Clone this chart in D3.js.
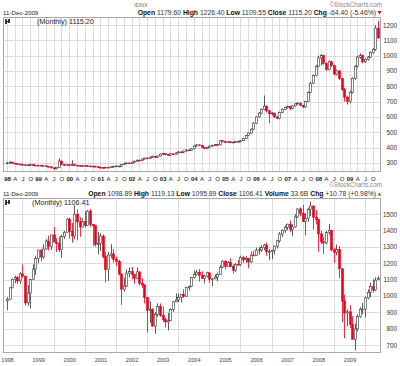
<!DOCTYPE html>
<html>
<head>
<meta charset="utf-8">
<script src="https://cdn.jsdelivr.net/npm/d3@7"></script>
<style>
body { margin: 0; background: #fff; }
svg text { font-family: "Liberation Sans", Arial, sans-serif; }
</style>
</head>
<body>
<div id="vis"></div>
<script>
/* ---- Data (monthly, Jan 1998 .. Dec 2009) ---- */
var years = ["1998","1999","2000","2001","2002","2003","2004","2005","2006","2007","2008","2009"];
var yearShort = ["98","99","00","01","02","03","04","05","06","07","08","09"];
var quarterLetters = ["A","J","O"];

/* IDNX (top panel) */
var idnxOpen = [
 295,300,305,298,295,290,292,288,285,287,290,285,
 283,285,280,282,278,275,268,262,270,312,290,285,
 288,285,292,285,280,283,278,282,280,276,279,275,
 272,270,268,272,270,275,278,280,276,290,295,300,
 298,305,312,318,315,325,332,330,338,342,336,345,
 358,362,355,350,360,358,366,372,370,378,385,380,
 392,410,418,415,400,395,402,410,415,420,418,445,
 440,435,438,432,436,440,438,445,460,478,495,520,
 560,600,625,650,670,640,620,625,600,590,630,650,
 660,668,655,672,685,690,676,665,700,760,820,870,
 930,985,1000,950,910,960,935,880,900,850,780,730,
 700,760,850,930,990,1000,960,975,990,1020,1040,1179.6];
var idnxHigh = [
 306,310,307,300,297,295,294,290,291,294,291,288,
 288,287,285,284,280,277,270,274,330,315,292,292,
 292,318,294,287,286,284,285,284,282,282,281,277,
 275,273,275,274,278,281,283,282,293,298,304,303,
 308,316,322,321,328,336,336,341,347,344,349,362,
 366,364,358,363,363,370,376,375,381,389,388,396,
 415,423,421,418,404,406,414,419,424,424,450,448,
 443,442,441,439,444,444,449,464,482,500,526,566,
 606,632,656,740,675,648,632,628,606,635,656,666,
 674,672,678,690,698,694,680,706,766,828,878,940,
 1000,1010,1005,955,968,965,940,910,905,855,790,740,
 770,858,938,1000,1015,1008,982,998,1028,1048,1200,1226.4];
var idnxLow = [
 292,297,294,291,286,287,284,281,282,284,281,279,
 280,277,278,274,270,262,256,258,266,286,280,282,
 282,280,280,276,278,274,276,275,272,273,270,267,
 265,264,265,266,268,272,274,272,274,287,292,294,
 295,302,308,312,312,322,326,327,334,332,333,342,
 354,350,345,348,354,354,362,366,366,373,377,378,
 388,405,410,396,388,390,398,405,410,413,415,435,
 430,432,428,429,432,434,435,442,456,474,490,515,
 555,595,620,645,630,560,610,595,585,585,625,645,
 655,645,650,668,680,670,658,660,695,755,815,865,
 925,935,940,900,905,925,870,870,840,770,700,680,
 690,752,842,922,980,950,952,968,984,1012,1032,1109.55];
var idnxClose = [
 300,305,298,295,290,292,288,285,287,290,285,283,
 285,280,282,278,275,268,262,270,312,290,285,288,
 285,292,285,280,283,278,282,280,276,279,275,272,
 270,268,272,270,275,278,280,276,290,295,300,298,
 305,312,318,315,325,332,330,338,342,336,345,358,
 362,355,350,360,358,366,372,370,378,385,380,392,
 410,418,415,400,395,402,410,415,420,418,445,440,
 435,438,432,436,440,438,445,460,478,495,520,560,
 600,625,650,670,640,620,625,600,590,630,650,660,
 668,655,672,685,690,676,665,700,760,820,870,930,
 985,1000,950,910,960,935,880,900,850,780,730,700,
 760,850,930,990,1000,960,975,990,1020,1040,1180,1115.2];

/* S&P 500 (bottom panel) */
var spxOpen = [
 970,980,1049,1102,1112,1091,1134,1121,957,1017,1099,1164,
 1229,1280,1238,1286,1335,1302,1373,1329,1320,1283,1363,1389,
 1469,1394,1366,1499,1452,1421,1455,1431,1518,1437,1429,1315,
 1320,1366,1240,1160,1249,1256,1224,1211,1134,1041,1060,1139,
 1148,1130,1107,1147,1077,1067,990,912,916,815,886,936,
 880,856,841,848,917,964,975,990,1008,996,1051,1058,
 1112,1131,1145,1126,1107,1121,1141,1102,1104,1115,1130,1174,
 1212,1181,1204,1181,1157,1192,1191,1234,1220,1229,1207,1249,
 1248,1280,1281,1295,1311,1270,1270,1277,1304,1336,1378,1401,
 1418,1438,1407,1421,1482,1531,1503,1455,1474,1527,1549,1481,
 1468,1379,1331,1323,1386,1400,1280,1267,1283,1166,969,896,
 903,826,735,798,873,919,919,987,1021,1057,1036,1098.89];
var spxHigh = [
 992,1051,1106,1124,1122,1145,1191,1121,1066,1103,1193,1245,
 1280,1281,1316,1347,1368,1372,1421,1352,1362,1374,1397,1474,
 1478,1445,1553,1528,1481,1474,1517,1525,1531,1438,1432,1390,
 1384,1376,1268,1269,1316,1286,1240,1220,1135,1111,1162,1173,
 1176,1131,1173,1147,1107,1070,994,966,925,900,954,954,
 935,864,895,924,966,1015,1015,1011,1040,1054,1063,1112,
 1155,1159,1163,1150,1128,1147,1141,1109,1131,1143,1188,1218,
 1217,1212,1229,1192,1200,1219,1246,1245,1244,1233,1270,1276,
 1295,1297,1310,1318,1326,1285,1281,1307,1340,1390,1407,1432,
 1441,1461,1438,1499,1535,1541,1556,1504,1539,1576,1553,1524,
 1471,1396,1359,1397,1440,1404,1293,1314,1304,1165,1007,919,
 943,876,832,888,930,956,996,1040,1081,1102,1113,1119.13];
var spxLow = [
 912,979,1048,1076,1074,1074,1112,940,939,923,1098,1129,
 1200,1212,1226,1282,1277,1281,1328,1268,1268,1233,1348,1387,
 1350,1325,1346,1339,1361,1418,1416,1431,1419,1305,1301,1254,
 1274,1228,1082,1091,1232,1203,1183,1124,945,1026,1054,1114,
 1101,1074,1106,1063,1048,953,776,834,815,768,872,872,
 840,806,789,847,903,962,962,960,988,995,1032,1054,
 1106,1124,1087,1105,1076,1113,1079,1060,1102,1090,1128,1172,
 1163,1180,1176,1137,1146,1188,1184,1201,1201,1168,1202,1245,
 1245,1253,1268,1280,1245,1219,1224,1253,1290,1326,1360,1385,
 1403,1389,1364,1416,1476,1485,1452,1370,1453,1489,1406,1436,
 1270,1317,1257,1315,1373,1272,1200,1247,1107,840,741,815,
 804,735,667,783,866,888,869,979,992,1020,1029,1095.89];
var spxClose = [
 980,1049,1102,1112,1091,1134,1121,957,1017,1099,1164,1229,
 1280,1238,1286,1335,1302,1373,1329,1320,1283,1363,1389,1469,
 1394,1366,1499,1452,1421,1455,1431,1518,1437,1429,1315,1320,
 1366,1240,1160,1249,1256,1224,1211,1134,1041,1060,1139,1148,
 1130,1107,1147,1077,1067,990,912,916,815,886,936,880,
 856,841,848,917,964,975,990,1008,996,1051,1058,1112,
 1131,1145,1126,1107,1121,1141,1102,1104,1115,1130,1174,1212,
 1181,1204,1181,1157,1192,1191,1234,1220,1229,1207,1249,1248,
 1280,1281,1295,1311,1270,1270,1277,1304,1336,1378,1401,1418,
 1438,1407,1421,1482,1531,1503,1455,1474,1527,1549,1481,1468,
 1379,1331,1323,1386,1400,1280,1267,1283,1166,969,896,903,
 826,735,798,873,919,919,987,1021,1057,1036,1096,1106.41];

/* Header texts */
var headerDate = "11-Dec-2009";
var idnxQuote = [["Open"," 1179.60 "],["High"," 1226.40 "],["Low"," 1109.55 "],["Close"," 1115.20 "],["Chg"," -64.40 (-5.46%) "]];
var spxQuote = [["Open"," 1098.89 "],["High"," 1119.13 "],["Low"," 1095.89 "],["Close"," 1106.41 "],["Volume"," 33.6B "],["Chg"," +10.78 (+0.98%) "]];
var idnxTicks = [300,400,500,600,700,800,900,1000,1100,1200];
var spxTicks = [700,800,900,1000,1100,1200,1300,1400,1500];

/* ---- Set up ---- */
var width = 400, height = 366;
var plotLeft = 3, plotRight = 381;
var red = "#e8001c", upColor = "#333", gridColor = "#dcdcdc";

var svg = d3.select('#vis').append('svg').attr('width', width).attr('height', height);

var bars = d3.range(144).map(function (i) {
    return new Date(1998 + Math.floor(i / 12), i % 12, 1);
});

var x = d3.scaleTime()
    .domain([new Date(1997, 10, 15), new Date(2010, 0, 5)])
    .range([plotLeft, plotRight]);

function panel(p) {
    var y = d3.scaleLinear().domain(p.domain).range([p.bottom, p.top]);
    var g = svg.append('g');
    var h = p.bottom - p.top;

    /* grid */
    var hGrid = d3.axisLeft(y).tickValues(p.ticks).tickSize(-(plotRight - plotLeft)).tickFormat("");
    g.append('g').attr('class', 'grid')
        .attr('transform', 'translate(' + plotLeft + ',0)')
        .call(hGrid);
    var vGrid = d3.axisBottom(x).tickValues(p.vlines).tickSize(-h).tickFormat("");
    g.append('g').attr('class', 'grid')
        .attr('transform', 'translate(0,' + p.bottom + ')')
        .call(vGrid);
    g.selectAll('.grid .domain').remove();
    g.selectAll('.grid line').attr('stroke', gridColor).attr('stroke-width', 1)
        .attr('shape-rendering', 'crispEdges');

    /* frame */
    g.append('rect')
        .attr('x', plotLeft + 0.5).attr('y', p.top + 0.5)
        .attr('width', plotRight - plotLeft - 1).attr('height', h - 1)
        .attr('fill', 'none').attr('stroke', '#a8a8a8').attr('stroke-width', 1);

    /* right axis labels */
    var yAxis = d3.axisRight(y).tickValues(p.ticks).tickSize(0).tickPadding(0).tickFormat(d3.format("d"));
    var ya = g.append('g').attr('transform', 'translate(397,0)').call(yAxis);
    ya.select('.domain').remove();
    ya.selectAll('text').attr('text-anchor', 'end').attr('x', 0)
        .style('font-size', '6.3px').attr('fill', '#333')
        .style('font-family', '"Liberation Sans", Arial, sans-serif');

    /* candles */
    var c = g.append('g').selectAll('g').data(bars).enter().append('g');
    c.append('line')
        .attr('x1', function (d) { return Math.round(x(d)) + 0.5; })
        .attr('x2', function (d) { return Math.round(x(d)) + 0.5; })
        .attr('y1', function (d, i) { return y(p.high[i]); })
        .attr('y2', function (d, i) { return y(p.low[i]); })
        .attr('stroke', function (d, i) { return p.close[i] >= p.open[i] ? upColor : red; })
        .attr('stroke-width', 0.8);
    c.append('rect')
        .attr('x', function (d) { return Math.round(x(d)) - 0.5; })
        .attr('width', 2)
        .attr('y', function (d, i) { return y(Math.max(p.open[i], p.close[i])); })
        .attr('height', function (d, i) { return Math.max(0.8, Math.abs(y(p.open[i]) - y(p.close[i]))); })
        .attr('fill', function (d, i) { return p.close[i] >= p.open[i] ? "#fff" : red; })
        .attr('stroke', function (d, i) { return p.close[i] >= p.open[i] ? upColor : red; })
        .attr('stroke-width', 0.6);

    /* small chart icon */
    g.append('path')
        .attr('d', 'M6,' + (p.top + 2) + 'v5M9,' + (p.top + 2) + 'v4')
        .attr('stroke', '#111').attr('stroke-width', 1.6);
    g.append('path')
        .attr('d', 'M5,' + (p.top + 6) + 'l5,-3')
        .attr('stroke', '#111').attr('stroke-width', 0.8);

    /* (Monthly) label */
    g.append('text').attr('x', p.monthlyX).attr('y', p.top + 6.5)
        .style('font-size', '7.2px').attr('fill', '#222')
        .text('(Monthly) ' + p.last);

    /* header */
    svg.append('text').attr('x', 3).attr('y', p.headerY)
        .style('font-size', '6.2px').attr('fill', '#222').text(headerDate);
    var q = svg.append('text').attr('x', 376).attr('y', p.headerY)
        .attr('text-anchor', 'end').style('font-size', '6.8px').attr('fill', '#111');
    p.quote.forEach(function (kv) {
        q.append('tspan').style('font-weight', 'bold').text(kv[0]);
        q.append('tspan').attr('fill', '#333').text(kv[1]);
    });
    svg.append('path')
        .attr('d', p.up ? 'M377.5,' + (p.headerY - 0.5) + 'l2,-3l2,3z' : 'M377.5,' + (p.headerY - 4) + 'l2,3.5l2,-3.5z')
        .attr('fill', p.up ? '#1a9a1a' : red);
    svg.append('text').attr('x', 382).attr('y', p.markY)
        .attr('text-anchor', 'end').style('font-size', '6.3px').attr('fill', '#888')
        .text('\u00A9StockCharts.com');
    return y;
}

/* ---- Top panel : IDNX ---- */
var quarterly = bars.filter(function (d) { return d.getMonth() % 3 === 0; });
panel({
    top: 17, bottom: 172, domain: [241, 1252], ticks: idnxTicks, vlines: quarterly,
    open: idnxOpen, high: idnxHigh, low: idnxLow, close: idnxClose,
    last: '1115.20', monthlyX: 37, headerY: 15, markY: 7, quote: idnxQuote, up: false
});
svg.append('text').attr('x', 141).attr('y', 7).attr('text-anchor', 'middle')
    .style('font-size', '5.6px').attr('fill', '#666').text('IDNX');

/* month labels */
var mAxis = d3.axisBottom(x).tickValues(quarterly).tickSize(0).tickPadding(5)
    .tickFormat(function (d) {
        var m = d.getMonth();
        return m === 0 ? yearShort[d.getFullYear() - 1998] : quarterLetters[m / 3 - 1];
    });
var ma = svg.append('g').attr('transform', 'translate(0,172)').call(mAxis);
ma.select('.domain').remove();
ma.selectAll('text').style('font-size', '6px').attr('fill', '#222')
    .style('font-family', '"Liberation Sans", Arial, sans-serif')
    .style('font-weight', function (d) { return d.getMonth() === 0 ? 'bold' : 'normal'; });

/* ---- Bottom panel : S&P 500 ---- */
var julys = bars.filter(function (d) { return d.getMonth() === 6; });
panel({
    top: 198, bottom: 353, domain: [651, 1598], ticks: spxTicks, vlines: julys,
    open: spxOpen, high: spxHigh, low: spxLow, close: spxClose,
    last: '1106.41', monthlyX: 32, headerY: 196, markY: 187, quote: spxQuote, up: true
});

/* year labels */
var januaries = bars.filter(function (d) { return d.getMonth() === 0; });
var yrAxis = d3.axisBottom(x).tickValues(januaries).tickSize(0).tickPadding(5)
    .tickFormat(function (d, i) { return years[i]; });
var yra = svg.append('g').attr('transform', 'translate(0,353)').call(yrAxis);
yra.select('.domain').remove();
yra.selectAll('text').style('font-size', '5.6px').attr('fill', '#444')
    .style('font-family', '"Liberation Sans", Arial, sans-serif');
</script>
</body>
</html>
